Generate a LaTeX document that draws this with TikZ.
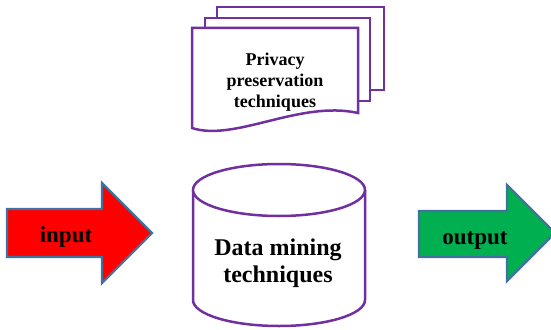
\documentclass[tikz,border=0pt]{standalone}
\usepackage{fontspec}
\setmainfont{Liberation Serif}
\usepackage{xcolor}
\usepackage{tikz}
\usetikzlibrary{positioning}
\definecolor{docpurple}{RGB}{112,48,160}
\definecolor{arrowedge}{RGB}{65,113,156}
\definecolor{inred}{RGB}{255,0,0}
\definecolor{outgreen}{RGB}{0,176,80}

\begin{document}
\begin{tikzpicture}
  [x=1pt,y=-1pt,
  page/.style={draw=docpurple,fill=white,line width=2.5pt,line join=miter},
  drum/.style={draw=docpurple,fill=white,line width=2.5pt},
  bigarrow/.style={draw=arrowedge,line width=2.2pt,line join=miter},
  pagetext/.style={font=\bfseries\fontsize{18}{21}\selectfont,align=center,inner sep=0pt},
  drumtext/.style={font=\bfseries\fontsize{24}{27}\selectfont,align=center,inner sep=0pt},
  arrowtext/.style={font=\bfseries\fontsize{23}{27}\selectfont,anchor=base,inner sep=0pt}
  ]
  \useasboundingbox (0,0) rectangle (551,329);
  % stack of pages
  \draw[page] (217,7) rectangle (384,90);
  \draw[page] (205,18) rectangle (370,101);
  \draw[page] (192,28) -- (358,28) -- (358,113)
    .. controls (300,100) and (235,142) .. (192,128) -- cycle;
  \node[pagetext] (privacy) at (275,82) {Privacy\\preservation\\techniques};
  % database
  \draw[drum] (193,190) -- (193,300)
    arc[start angle=180,end angle=360,x radius=86pt,y radius=26pt] -- (365,190);
  \draw[drum] (279,190) ellipse[x radius=86pt,y radius=26pt];
  \node[drumtext] (mining) at (278,263) {Data mining\\techniques};
  % arrows
  \draw[bigarrow,fill=inred] (7,209) -- (102,209) -- (102,183) -- (152,233)
    -- (102,283) -- (102,257) -- (7,257) -- cycle;
  \node[arrowtext] (input) at (66,242) {input};
  \draw[bigarrow,fill=outgreen] (419,211) -- (507,211) -- (507,185) -- (555,233)
    -- (507,281) -- (507,257) -- (419,257) -- cycle;
  \node[arrowtext] (output) at (475,244) {output};
\end{tikzpicture}
\end{document}
